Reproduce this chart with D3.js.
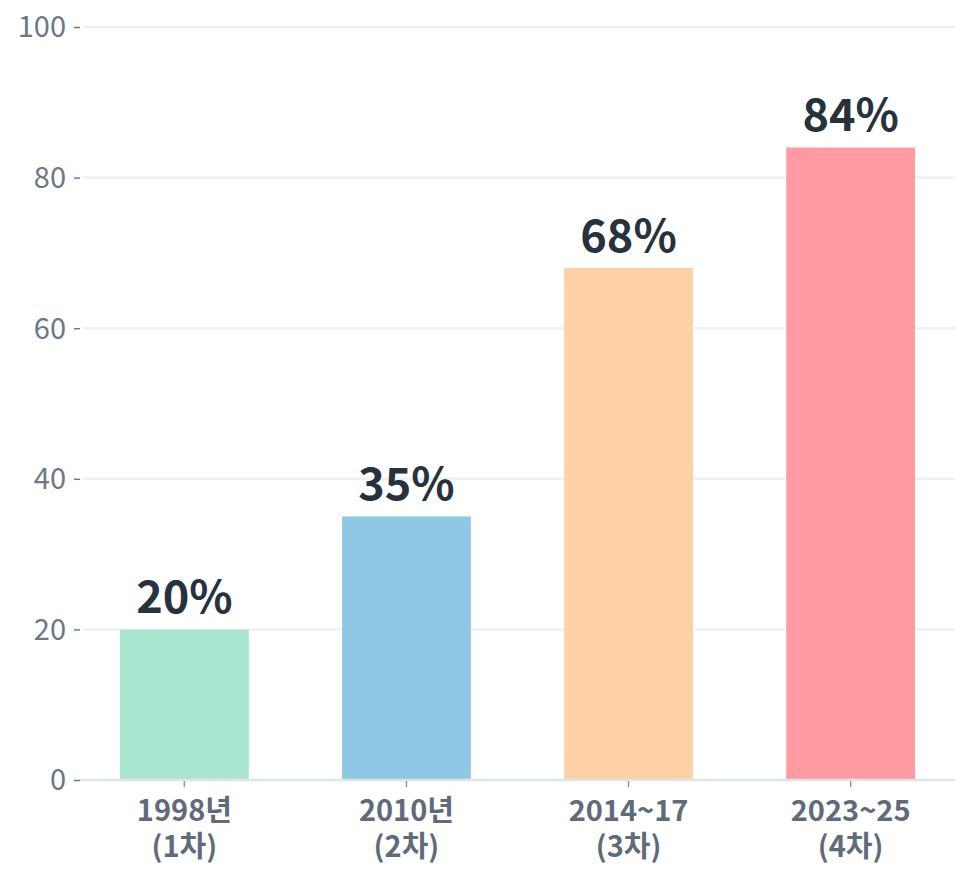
<!DOCTYPE html>
<html>
<head>
<meta charset="utf-8">
<script src="https://cdn.jsdelivr.net/npm/d3@7"></script>
<style>
	body { margin: 0; background: #fff; }
	svg { display: block; font-family: "Noto Sans CJK KR", "Noto Sans", sans-serif; }
	.grid line { stroke: #eef0f3; stroke-width: 2.5; }
	.yaxis text { fill: #6b7886; font-size: 29px; }
	.yaxis line { stroke: #6b7886; stroke-width: 1.5; }
	.xaxis text { fill: #5f6b7a; font-size: 29px; font-weight: bold; }
	.value { fill: #26323d; font-size: 45px; font-weight: bold; }
</style>
</head>
<body>
<svg id="chart"></svg>
<script>
const labelsTop = ["1998년", "2010년", "2014~17", "2023~25"];
const labelsBottom = ["(1차)", "(2차)", "(3차)", "(4차)"];
const values = [20, 35, 68, 84];
const colors = ["#a8e6cf", "#8fc8e4", "#fdd1a4", "#ff9aa2"];
const yTicks = [0, 20, 40, 60, 80, 100];

function init() {
	let width = 969, height = 880;
	let margin = {top: 27, right: 14, bottom: 100, left: 80};

	let svg = d3.select("svg#chart")
		.attr("width", width)
		.attr("height", height);

	let x = d3.scaleBand()
		.domain(labelsTop)
		.range([margin.left, width - margin.right])
		.paddingInner(0.42)
		.paddingOuter(0.18);

	let y = d3.scaleLinear()
		.domain([0, 100])
		.range([height - margin.bottom, margin.top]);

	// gridlines
	svg.append("g")
		.attr("class", "grid")
		.selectAll("line")
		.data(yTicks.filter(d => d > 0))
		.enter().append("line")
		.attr("x1", margin.left + 3)
		.attr("x2", width - margin.right)
		.attr("y1", d => y(d))
		.attr("y2", d => y(d));

	// y axis, ticks only
	let yAxis = svg.append("g")
		.attr("class", "yaxis")
		.attr("transform", `translate(${margin.left},0)`)
		.call(d3.axisLeft(y).tickValues(yTicks).tickSize(6).tickPadding(8))
		.attr("font-family", null)
		.attr("font-size", null);
	yAxis.select(".domain").remove();
	yAxis.selectAll("text").attr("dy", "0.34em");

	// bars
	svg.selectAll("rect.bar")
		.data(values)
		.enter().append("rect")
		.attr("class", "bar")
		.attr("x", (d, i) => x(labelsTop[i]))
		.attr("width", x.bandwidth())
		.attr("y", d => y(d))
		.attr("height", d => y(0) - y(d))
		.attr("fill", (d, i) => colors[i]);

	// baseline
	svg.append("line")
		.attr("x1", margin.left)
		.attr("x2", width - margin.right)
		.attr("y1", y(0))
		.attr("y2", y(0))
		.attr("stroke", "#dfe4ea")
		.attr("stroke-width", 2.5);

	// x axis
	let xAxis = svg.append("g")
		.attr("class", "xaxis")
		.attr("transform", `translate(0,${y(0) + 1})`)
		.call(d3.axisBottom(x).tickSize(6).tickPadding(12))
		.attr("font-family", null)
		.attr("font-size", null);
	xAxis.select(".domain").remove();
	xAxis.selectAll("line").attr("stroke", "#8a96a3").attr("stroke-width", 1.5);
	// two-line labels
	xAxis.selectAll("text").text((d, i) => labelsTop[i]).attr("dy", null).attr("y", 40);
	xAxis.selectAll(".tick").append("text")
		.attr("fill", "currentColor")
		.attr("y", 76)
		.text((d, i) => labelsBottom[i]);

	// value labels
	svg.selectAll("text.value")
		.data(values)
		.enter().append("text")
		.attr("class", "value")
		.attr("text-anchor", "middle")
		.attr("x", (d, i) => x(labelsTop[i]) + x.bandwidth() / 2)
		.attr("y", d => y(d) - 16)
		.text(d => d + "%");
}

init();
</script>
</body>
</html>
